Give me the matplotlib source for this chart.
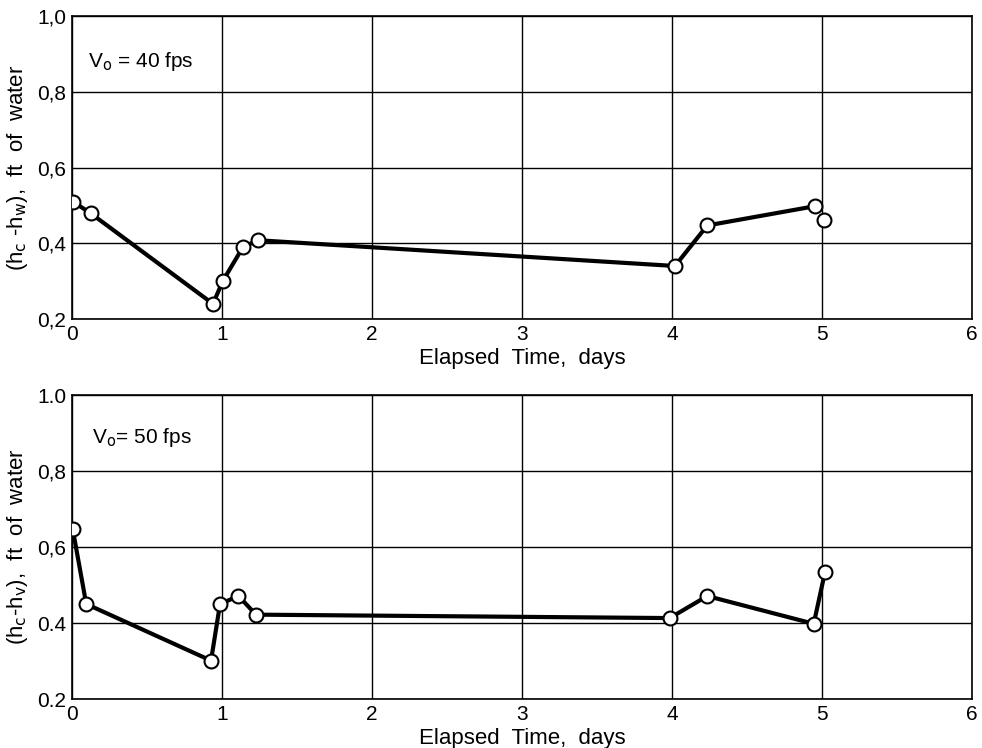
#!/usr/bin/env python3
# -*- coding: utf-8 -*-

import matplotlib
matplotlib.use('Agg')
import matplotlib.pyplot as plt

plt.rcParams['font.family'] = ['Liberation Sans', 'DejaVu Sans']

# V0 = 40 fps
t40 = [0.01, 0.125, 0.94, 1.005, 1.14, 1.24, 4.02, 4.235, 4.955]
h40 = [0.509, 0.479, 0.240, 0.300, 0.390, 0.408, 0.340, 0.447, 0.498]
t40_extra = [5.015]
h40_extra = [0.461]

# V0 = 50 fps
t50 = [0.005, 0.095, 0.927, 0.987, 1.11, 1.227, 3.985, 4.235, 4.945, 5.02]
h50 = [0.647, 0.450, 0.301, 0.450, 0.471, 0.422, 0.413, 0.471, 0.398, 0.534]

xticks = [0, 1, 2, 3, 4, 5, 6]
yticks = [0.2, 0.4, 0.6, 0.8, 1.0]
ylabels_top = ['0,2', '0,4', '0,6', '0,8', '1,0']
ylabels_bot = ['0.2', '0.4', '0,6', '0,8', '1.0']

fig = plt.figure(figsize=(9.82, 7.48), dpi=100)
ax1 = fig.add_axes([0.0733, 0.5735, 0.9165, 0.4051])
ax2 = fig.add_axes([0.0733, 0.0655, 0.9165, 0.4064])


def style(ax, ylabels, ylab, note, note_x, note_y):
    ax.set_xlim(0, 6)
    ax.set_ylim(0.2, 1.0)
    ax.set_xticks(xticks)
    ax.set_xticklabels([str(v) for v in xticks])
    ax.set_yticks(yticks)
    ax.set_yticklabels(ylabels)
    ax.tick_params(length=0, labelsize=15, pad=4)
    ax.grid(True, color='black', linewidth=1.0)
    for s in ax.spines.values():
        s.set_linewidth(1.2)
    ax.set_xlabel('Elapsed  Time,  days', fontsize=16, labelpad=3)
    ax.set_ylabel(ylab, fontsize=16, labelpad=5)
    ax.text(note_x, note_y, note, fontsize=15, ha='left', va='center',
            transform=ax.transAxes)


mk = dict(marker='o', markersize=10, markerfacecolor='white',
          markeredgecolor='black', markeredgewidth=1.5, zorder=3)

ax1.plot(t40, h40, color='black', linewidth=3, **mk)
ax1.plot(t40_extra, h40_extra, linestyle='none', **mk)
style(ax1, ylabels_top, r'(h$_\mathrm{c}$ -h$_\mathrm{w}$),  ft  of  water',
      r'V$_\mathrm{o}$ = 40 fps', 0.018, 0.85)

ax2.plot(t50, h50, color='black', linewidth=3, **mk)
style(ax2, ylabels_bot, r'(h$_\mathrm{c}$-h$_\mathrm{v}$),  ft  of  water',
      r'V$_\mathrm{o}$= 50 fps', 0.022, 0.86)

fig.savefig('out.png', dpi=100)
